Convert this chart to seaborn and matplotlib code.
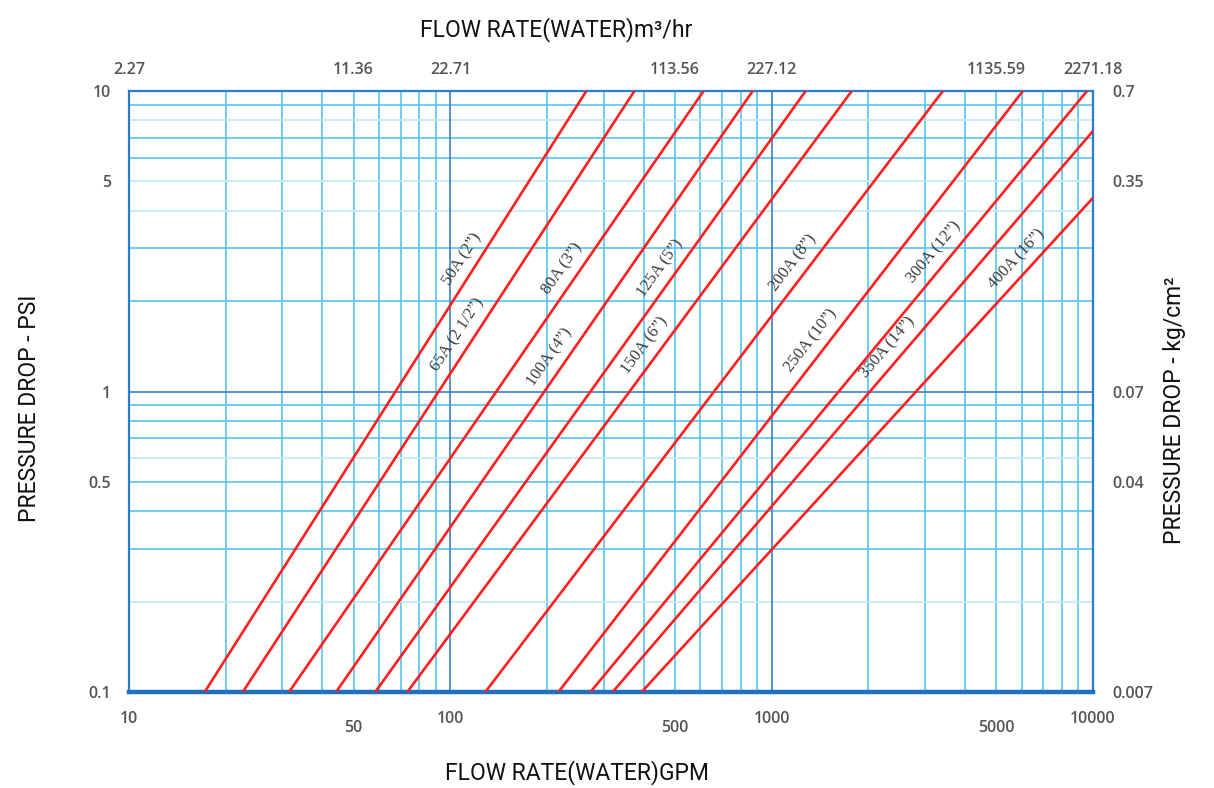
import numpy as np
import pandas as pd
import matplotlib
matplotlib.use("Agg")
import matplotlib.pyplot as plt
from matplotlib.font_manager import FontProperties
import seaborn as sns

# valve sizes and their pressure-drop lines
sizes = ["50A (2”)", "65A (2 1/2”)", "80A (3”)", "100A (4”)", "125A (5”)",
         "150A (6”)", "200A (8”)", "250A (10”)", "300A (12”)", "350A (14”)",
         "400A (16”)"]
gpm_start = [17.2, 22.6, 31.5, 44.1, 58.4, 73.5, 128.5, 217, 273, 320, 394]
psi_start = [0.1] * 11
gpm_end = [265, 374, 614, 873, 1276, 1775, 3410, 6050, 9580, 10000, 10000]
psi_end = [10, 10, 10, 10, 10, 10, 10, 10, 10, 7.36, 4.41]
label_psi = [2.6, 1.45, 2.4, 1.22, 2.4, 1.33, 2.5, 1.38, 2.7, 1.30, 2.55]

gpm_ticks = [10, 50, 100, 500, 1000, 5000, 10000]
m3h_labels = ["2.27", "11.36", "22.71", "113.56", "227.12", "1135.59", "2271.18"]
psi_ticks = [0.1, 0.5, 1, 5, 10]
psi_labels = ["0.1", "0.5", "1", "5", "10"]
kg_labels = ["0.007", "0.04", "0.07", "0.35", "0.7"]

x_grid = [20, 30, 40, 50, 60, 70, 80, 90, 200, 300, 400, 500, 600, 700, 800,
          900, 2000, 3000, 4000, 5000, 6000, 7000, 8000, 9000]
y_grid = [0.2, 0.3, 0.4, 0.5, 0.6, 0.7, 0.8, 0.9, 2, 3, 4, 5, 6, 7, 8, 9]
y_faint = [0.2, 0.6, 4, 5, 8]

rows = []
for s, x0, y0, x1, y1 in zip(sizes, gpm_start, psi_start, gpm_end, psi_end):
    rows.append({"size": s, "gpm": x0, "psi": y0})
    rows.append({"size": s, "gpm": x1, "psi": y1})
df = pd.DataFrame(rows)

sns.set_style("white")
plt.rcParams["font.family"] = ["DejaVu Sans"]

fig = plt.figure(figsize=(12.14, 7.88), dpi=100)
ax = fig.add_axes([129 / 1214, 96 / 788, 964 / 1214, 601 / 788])

grid_c = "#55c3f2"
major_c = "#3b7fc4"
frame_c = "#2a7ccc"

for v in x_grid:
    ax.axvline(v, color=grid_c, lw=1.2, zorder=1)
for v in y_grid:
    ax.axhline(v, color="#bfe8fb" if v in y_faint else grid_c, lw=1.2, zorder=1)
for v in [100, 1000]:
    ax.axvline(v, color=major_c, lw=1.2, zorder=1.5)
ax.axhline(1, color=major_c, lw=1.2, zorder=1.5)

sns.lineplot(data=df, x="gpm", y="psi", units="size", estimator=None,
             sort=False, color="#ff1f1f", lw=1.9, ax=ax, zorder=3)

ax.set_xscale("log")
ax.set_yscale("log")
ax.set_xlim(10, 10000)
ax.set_ylim(0.1, 10)
ax.set_xlabel("")
ax.set_ylabel("")

for side in ["left", "right", "top"]:
    ax.spines[side].set_color(frame_c)
    ax.spines[side].set_linewidth(1.6)
ax.spines["bottom"].set_color("#1e6fc0")
ax.spines["bottom"].set_linewidth(3.2)

tick_fp = FontProperties(family=["Open Sans", "DejaVu Sans"], size=11.5,
                         weight="semibold")
tick_color = "#555555"


def style_labels(labels):
    for lab in labels:
        lab.set_fontproperties(tick_fp)
        lab.set_color(tick_color)


ax.set_xticks(gpm_ticks, labels=[str(t) for t in gpm_ticks])
ax.set_xticks([], minor=True)
ax.set_yticks(psi_ticks, labels=psi_labels)
ax.set_yticks([], minor=True)
ax.tick_params(length=0)
style_labels(ax.get_xticklabels() + ax.get_yticklabels())
for t, val in zip(ax.xaxis.get_major_ticks(), gpm_ticks):
    t.set_pad(20 if str(val).startswith("5") else 14)
ax.tick_params(axis="y", pad=13)

top = ax.secondary_xaxis("top", functions=(lambda x: x, lambda x: x))
top.set_xticks(gpm_ticks, labels=m3h_labels)
top.set_xticks([], minor=True)
top.tick_params(length=0, pad=9)
top.spines["top"].set_visible(False)
style_labels(top.get_xticklabels())

right = ax.secondary_yaxis("right", functions=(lambda y: y, lambda y: y))
right.set_yticks(psi_ticks, labels=kg_labels)
right.set_yticks([], minor=True)
right.tick_params(length=0, pad=14)
right.spines["right"].set_visible(False)
style_labels(right.get_yticklabels())

# labels along each line, nudged a little off the line to its upper-left side
for s, x0, y0, x1, y1, yp in zip(sizes, gpm_start, psi_start, gpm_end, psi_end, label_psi):
    f = (np.log10(yp) - np.log10(y0)) / (np.log10(y1) - np.log10(y0))
    xp = 10 ** (np.log10(x0) + f * (np.log10(x1) - np.log10(x0)))
    p0 = ax.transData.transform((x0, y0))
    p1 = ax.transData.transform((x1, y1))
    ang = np.degrees(np.arctan2(p1[1] - p0[1], p1[0] - p0[0]))
    nx, ny = -np.sin(np.radians(ang)), np.cos(np.radians(ang))
    ax.annotate(s, (xp, yp), xytext=(5 * nx, 5 * ny), textcoords="offset points",
                rotation=ang, rotation_mode="anchor", ha="center", va="bottom",
                fontsize=12, color="#3a3a3a",
                family=["Liberation Serif", "DejaVu Serif"], zorder=4)

title_font = dict(family=["Roboto", "DejaVu Sans"], fontsize=16.5, color="#111111")
fig.text(556 / 1214, 1 - 30 / 788, "FLOW RATE(WATER)m³/hr", ha="center",
         va="center", **title_font)
fig.text(577 / 1214, 1 - 773 / 788, "FLOW RATE(WATER)GPM", ha="center",
         va="center", **title_font)
fig.text(30 / 1214, 1 - 408 / 788, "PRESSURE DROP - PSI", ha="center",
         va="center", rotation=90, **title_font)
fig.text(1175 / 1214, 1 - 410 / 788, "PRESSURE DROP - kg/cm²", ha="center",
         va="center", rotation=90, **title_font)

fig.savefig("out.png", dpi=100)
